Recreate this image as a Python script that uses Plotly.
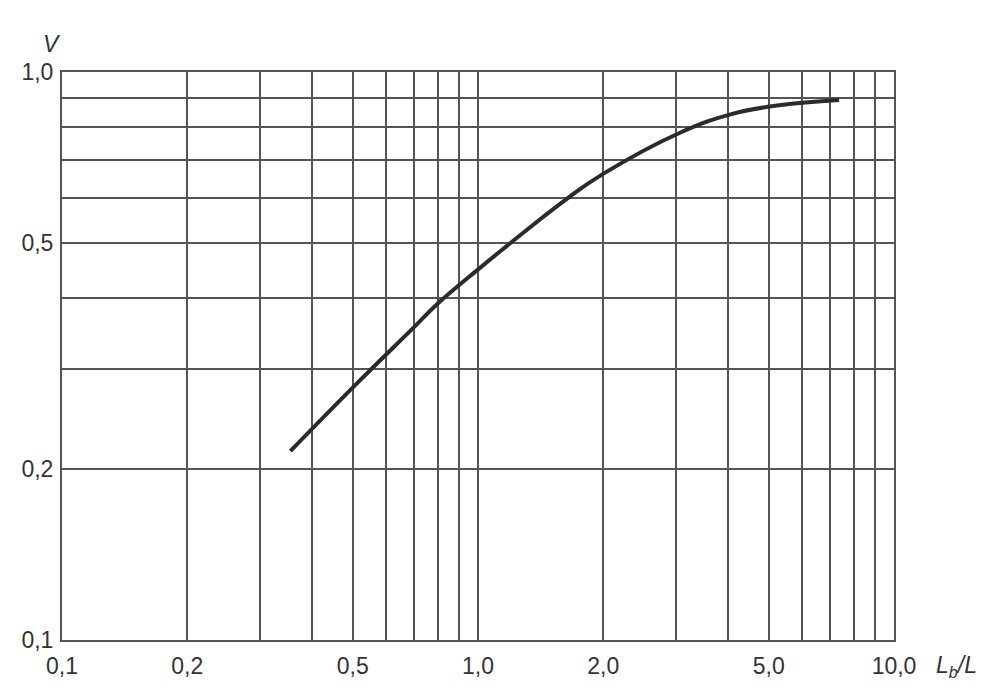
import plotly.graph_objects as go

# curve V against Lb/L
ratio = [0.354, 0.513, 0.698, 0.797, 1.011, 1.193, 1.635, 1.994, 3.05, 4.09, 5.30, 7.38]
v_vals = [0.215, 0.2835, 0.354, 0.390, 0.452, 0.499, 0.598, 0.661, 0.781, 0.844, 0.874, 0.893]

# grid positions and the labels shown on them
x_grid = [0.1, 0.2, 0.3, 0.4, 0.5, 0.6, 0.7, 0.8, 0.9, 1, 2, 3, 4, 5, 6, 7, 8, 9, 10]
x_text = ["0,1", "0,2", " ", " ", "0,5", " ", " ", " ", " ", "1,0", "2,0", " ", " ", "5,0", " ", " ", " ", " ", "10,0"]
y_grid = [0.1, 0.2, 0.3, 0.4, 0.5, 0.6, 0.7, 0.8, 0.9, 1.0]
y_text = ["0,1", "0,2", " ", " ", "0,5", " ", " ", " ", " ", "1,0"]

grid_col = "#555555"
text_col = "#333333"
font = "Liberation Sans, Arial, sans-serif"

fig = go.Figure()

fig.add_trace(go.Scatter(
    x=ratio, y=v_vals,
    mode="lines",
    line=dict(color="#2b2b2b", width=4, shape="spline", smoothing=1.2),
    showlegend=False,
))

# page body adds ~8px, so margins are trimmed to land the plot at the reference spot
fig.update_layout(
    width=1004, height=698,
    margin=dict(l=54, r=118, t=64, b=66),
    paper_bgcolor="white",
    plot_bgcolor="white",
    font=dict(family=font, size=23, color=text_col),
    xaxis=dict(
        type="log", range=[-1, 1], automargin=False,
        tickvals=x_grid, ticktext=x_text, tickangle=0,
        showgrid=True, gridcolor=grid_col, gridwidth=2,
        showline=True, linecolor=grid_col, linewidth=2, mirror=True,
        zeroline=False, ticks="", ticklabelstandoff=4,
    ),
    yaxis=dict(
        type="log", range=[-1, 0], automargin=False,
        tickvals=y_grid, ticktext=y_text,
        showgrid=True, gridcolor=grid_col, gridwidth=2,
        showline=True, linecolor=grid_col, linewidth=2, mirror=True,
        zeroline=False, ticks="", ticklabelstandoff=2,
    ),
    annotations=[
        dict(text="<i>V</i>", xref="paper", yref="paper", x=-0.025, y=1.076,
             showarrow=False, font=dict(size=23, color=text_col)),
        dict(text="<i>L<sub>b</sub>/L</i>", xref="paper", yref="paper", x=1.048, y=-0.047,
             xanchor="left", yanchor="middle", showarrow=False, font=dict(size=23, color=text_col)),
    ],
)

fig.write_html("out.html")
